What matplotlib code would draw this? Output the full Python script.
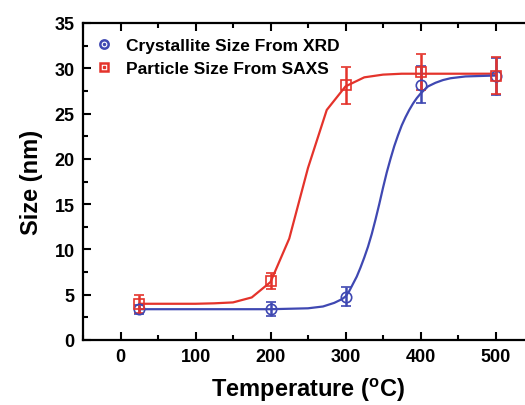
import matplotlib
matplotlib.use("Agg")
import matplotlib.pyplot as plt
from matplotlib.lines import Line2D
from matplotlib.ticker import MultipleLocator

plt.rcParams['font.family'] = ['Liberation Sans', 'DejaVu Sans']
plt.rcParams['font.weight'] = 'bold'
plt.rcParams['mathtext.fontset'] = 'custom'
plt.rcParams['mathtext.bf'] = 'Liberation Sans:bold'
plt.rcParams['mathtext.rm'] = 'Liberation Sans:bold'

# measured points
temp = [25, 200, 300, 400, 500]
xrd_size = [3.4, 3.4, 4.8, 28.2, 29.1]
xrd_err = [0.5, 0.8, 1.0, 2.0, 2.0]
saxs_size = [4.0, 6.5, 28.1, 29.6, 29.2]
saxs_err = [1.0, 0.9, 2.0, 2.0, 2.0]

# fitted curves
xrd_fit_t = [25, 200, 250, 270, 285, 295, 300, 305, 310, 315, 320, 325, 330,
             335, 340, 345, 350, 355, 360, 365, 370, 375, 380, 385, 390, 395,
             400, 410, 420, 430, 440, 460, 480, 500]
xrd_fit_y = [3.4, 3.4, 3.5, 3.7, 4.1, 4.5, 4.8, 5.4, 6.2, 7.0, 8.0, 9.1, 10.3,
             11.7, 13.3, 15.0, 16.8, 18.5, 20.0, 21.4, 22.6, 23.7, 24.6, 25.4,
             26.1, 26.7, 27.2, 28.0, 28.4, 28.7, 28.9, 29.1, 29.15, 29.2]
saxs_fit_t = [25, 50, 75, 100, 125, 150, 175, 200, 225, 250, 275, 300, 325,
              350, 375, 400, 425, 450, 475, 500]
saxs_fit_y = [4.0, 4.0, 4.0, 4.0, 4.05, 4.15, 4.7, 6.4, 11.2, 19.0, 25.4, 28.0,
              29.0, 29.3, 29.4, 29.4, 29.4, 29.4, 29.4, 29.4]

red = '#e4332b'
blue = '#3f48b2'

fig = plt.figure(figsize=(5.25, 4.06), dpi=100)
ax = fig.add_axes([83 / 525, 65 / 406, 450 / 525, 317 / 406])

ax.plot(saxs_fit_t, saxs_fit_y, color=red, lw=1.6, zorder=3)
ax.plot(xrd_fit_t, xrd_fit_y, color=blue, lw=1.6, zorder=3)
ax.errorbar(temp, xrd_size, yerr=xrd_err, fmt='o', mfc='none', mec=blue,
            ecolor=blue, ms=7.5, mew=1.2, elinewidth=1.8, capsize=3.5,
            capthick=1.8, zorder=4)
ax.errorbar(temp, saxs_size, yerr=saxs_err, fmt='s', mfc='none', mec=red,
            ecolor=red, ms=7, mew=1.2, elinewidth=1.8, capsize=3.5,
            capthick=1.8, zorder=4)

ax.set_xlim(-50, 550)
ax.set_ylim(0, 35)
ax.xaxis.set_major_locator(MultipleLocator(100))
ax.xaxis.set_minor_locator(MultipleLocator(50))
ax.yaxis.set_major_locator(MultipleLocator(5))
ax.yaxis.set_minor_locator(MultipleLocator(2.5))
ax.tick_params(which='both', direction='in', top=True, right=True,
               width=1.5, labelsize=13, pad=6)
ax.tick_params(which='major', length=6)
ax.tick_params(which='minor', length=3.5)
for lab in ax.get_xticklabels() + ax.get_yticklabels():
    lab.set_fontweight('bold')
for sp in ax.spines.values():
    sp.set_linewidth(1.6)

ax.set_xlabel(r'Temperature ($^\mathbf{o}$C)', fontsize=17, fontweight='bold',
              labelpad=7)
ax.set_ylabel('Size (nm)', fontsize=17, fontweight='bold', labelpad=8)

circ = Line2D([], [], ls='none', marker='o', mfc='none', mec=blue, ms=6, mew=1.8)
circ_dot = Line2D([], [], ls='none', marker='o', mfc=blue, mec=blue, ms=1.5)
sq = Line2D([], [], ls='none', marker='s', mfc='none', mec=red, ms=6, mew=1.8)
sq_dot = Line2D([], [], ls='none', marker='s', mfc=red, mec=red, ms=1.5)
ax.legend([(circ, circ_dot), (sq, sq_dot)],
          ['Crystallite Size From XRD', 'Particle Size From SAXS'],
          loc='upper left', frameon=False, handlelength=1.0,
          handletextpad=0.75, borderaxespad=0.3, labelspacing=0.42,
          bbox_to_anchor=(0.0, 0.99), prop={'weight': 'bold', 'size': 12.5})

fig.savefig('out.png', dpi=100)
